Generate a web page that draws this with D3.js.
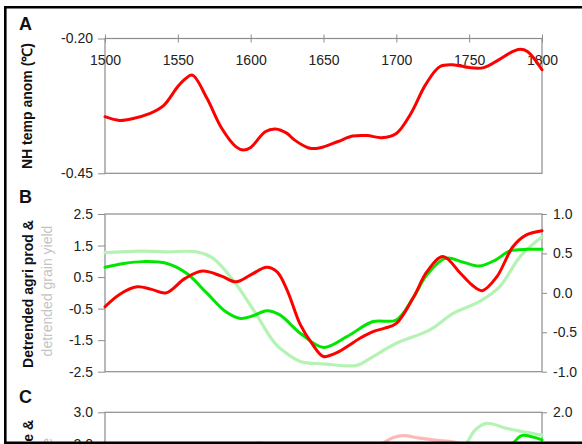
<!DOCTYPE html>
<html>
<head>
<meta charset="utf-8">
<script src="https://cdn.jsdelivr.net/npm/d3@7"></script>
<style>
  html, body { margin: 0; padding: 0; background: #fff; overflow: hidden; }
  svg { display: block; font-family: "Liberation Sans", Arial, sans-serif; }
</style>
</head>
<body>
<svg id="chart" width="582" height="444"></svg>
<script>
// Panel A: NH temperature anomaly
const yearsA = [1500, 1510, 1520, 1530, 1540, 1550, 1555, 1560, 1570, 1580, 1590, 1595, 1600, 1610, 1617, 1625, 1630, 1640, 1645, 1650, 1660, 1670, 1680, 1690, 1700, 1710, 1720, 1730, 1740, 1750, 1760, 1770, 1780, 1785, 1790, 1800];
const tempA = [-0.345, -0.352, -0.348, -0.340, -0.325, -0.289, -0.275, -0.268, -0.311, -0.366, -0.401, -0.407, -0.402, -0.373, -0.368, -0.376, -0.388, -0.403, -0.404, -0.401, -0.391, -0.381, -0.380, -0.384, -0.376, -0.339, -0.286, -0.252, -0.249, -0.254, -0.254, -0.240, -0.224, -0.220, -0.224, -0.258];

// Panel B: detrended agricultural production (red, green) and grain yield (light green, right axis)
const yearsBRed = [1500, 1510, 1522, 1532, 1542, 1555, 1567, 1580, 1590, 1600, 1611, 1618, 1625, 1634, 1642, 1650, 1658, 1666, 1675, 1684, 1692, 1700, 1712, 1721, 1732, 1744, 1752, 1759, 1769, 1780, 1789, 1800];
const agriRed = [-0.44, -0.05, 0.19, 0.11, 0.00, 0.46, 0.69, 0.53, 0.35, 0.57, 0.81, 0.67, 0.09, -1.00, -1.60, -2.02, -1.92, -1.71, -1.44, -1.23, -1.12, -0.97, -0.12, 0.67, 1.15, 0.62, 0.25, 0.07, 0.51, 1.46, 1.83, 1.97];
const yearsBGreen = [1500, 1513, 1526, 1542, 1556, 1570, 1583, 1593, 1602, 1611, 1620, 1634, 1650, 1666, 1684, 1700, 1712, 1721, 1734, 1746, 1757, 1768, 1778, 1790, 1800];
const agriGreen = [0.81, 0.93, 0.99, 0.94, 0.62, -0.01, -0.60, -0.81, -0.72, -0.57, -0.70, -1.28, -1.73, -1.39, -0.91, -0.86, -0.12, 0.57, 1.10, 0.97, 0.85, 1.04, 1.33, 1.38, 1.38];
const yearsBYield = [1500, 1524, 1542, 1563, 1574, 1588, 1602, 1615, 1620, 1634, 1650, 1673, 1682, 1700, 1723, 1739, 1757, 1771, 1785, 1800];
const grainYield = [0.51, 0.53, 0.52, 0.52, 0.44, 0.16, -0.22, -0.60, -0.70, -0.87, -0.90, -0.92, -0.83, -0.64, -0.47, -0.26, -0.11, 0.08, 0.46, 0.71];

// Panel C: only the top strip is visible in the picture
const yearsCPink = [1685, 1691, 1698, 1705, 1716, 1730, 1741, 1748];
const seriesCPink = [1.87, 2.03, 2.20, 2.26, 2.18, 2.10, 2.04, 1.90];
const yearsCLight = [1598, 1606, 1613, null, 1745, 1748, 1754, 1762, 1776, 1788, 1800];
const seriesCLight = [1.12, 1.23, 1.12, null, 1.09, 1.20, 1.55, 1.72, 1.59, 1.50, 1.42];
const yearsCGreen = [1778, 1780, 1786, 1794, 1800];
const seriesCGreen = [1.09, 1.20, 1.41, 1.37, 1.30];

// tick labels
const yearTicks = [1500, 1550, 1600, 1650, 1700, 1750, 1800];
const ticksALeft = [-0.20, -0.45];
const ticksBLeft = [2.5, 1.5, 0.5, -0.5, -1.5, -2.5];
const ticksBRight = [1.0, 0.5, 0.0, -0.5, -1.0];
const ticksCLeft = [3, 2];
const ticksCRight = [2];

const svg = d3.select('#chart');
const axisGrey = '#8c8c8c';
const left = 105, right = 542;
const panelH = 157.7;

var x = d3.scaleLinear().domain([1500, 1800]).range([left, right]);

var yA = d3.scaleLinear().domain([-0.45, -0.20]).range([173.3, 38.5]);
var yBL = d3.scaleLinear().domain([-2.5, 2.5]).range([214 + panelH, 214]);
var yBR = d3.scaleLinear().domain([-1, 1]).range([214 + panelH, 214]);
var yCL = d3.scaleLinear().domain([-2, 3]).range([412.3 + panelH, 412.3]);
var yCR = d3.scaleLinear().domain([-2, 2]).range([412.3 + panelH, 412.3]);

// plain hyphen minus, like the original spreadsheet labels
function fmt(spec) {
  var f = d3.format(spec);
  return d => f(d).replace('\u2212', '-');
}

function zip(xs, ys) {
  return xs.map((d, i) => ({ year: d, value: ys[i] }));
}

function drawLine(data, yScale, color, width) {
  var line = d3.line()
    .defined(d => d.year !== null && d.value !== null)
    .x(d => x(d.year))
    .y(d => yScale(d.value))
    .curve(d3.curveCatmullRom.alpha(0.5));
  svg.append('path')
    .attr('d', line(data))
    .style('fill', 'none')
    .style('stroke', color)
    .style('stroke-width', width)
    .style('stroke-linejoin', 'round')
    .style('stroke-linecap', 'round');
}

function styleAxis(g) {
  g.select('.domain').remove();
  g.selectAll('line').attr('stroke', axisGrey);
  g.selectAll('text').attr('fill', '#222').style('font-size', '14px')
    .style('font-family', '"Liberation Sans", Arial, sans-serif');
}

function frame(top, bottom) {
  svg.append('rect')
    .attr('x', left).attr('y', top)
    .attr('width', right - left).attr('height', bottom - top)
    .attr('fill', 'none').attr('stroke', axisGrey).attr('stroke-width', 1.2);
}

// ---- Panel A ----
frame(38.5, 173.3);
svg.append('g')
  .attr('transform', 'translate(0,38.5)')
  .call(d3.axisBottom(x).tickValues(yearTicks).tickFormat(d3.format('d')).tickSize(4).tickPadding(12.5))
  .call(styleAxis)
  .call(g => g.selectAll('.tick line').attr('y1', -4));
svg.append('g')
  .attr('transform', `translate(${left},0)`)
  .call(d3.axisLeft(yA).tickValues(ticksALeft).tickFormat(fmt('.2f')).tickSize(7).tickPadding(5))
  .call(styleAxis);
drawLine(zip(yearsA, tempA), yA, '#ff0000', 3);

// ---- Panel B ----
frame(214, 214 + panelH);
svg.append('g')
  .attr('transform', `translate(${left},0)`)
  .call(d3.axisLeft(yBL).tickValues(ticksBLeft).tickFormat(fmt('.1f')).tickSize(7).tickPadding(5))
  .call(styleAxis);
svg.append('g')
  .attr('transform', `translate(${right},0)`)
  .call(d3.axisRight(yBR).tickValues(ticksBRight).tickFormat(fmt('.1f')).tickSize(5).tickPadding(6))
  .call(styleAxis);
drawLine(zip(yearsBYield, grainYield), yBR, '#b5f3b5', 3.2);
drawLine(zip(yearsBGreen, agriGreen), yBL, '#00e600', 3);
drawLine(zip(yearsBRed, agriRed), yBL, '#ff0000', 3);

// ---- Panel C ----
frame(412.3, 412.3 + panelH);
svg.append('g')
  .attr('transform', `translate(${left},0)`)
  .call(d3.axisLeft(yCL).tickValues(ticksCLeft).tickFormat(fmt('.1f')).tickSize(7).tickPadding(5))
  .call(styleAxis);
svg.append('g')
  .attr('transform', `translate(${right},0)`)
  .call(d3.axisRight(yCR).tickValues(ticksCRight).tickFormat(fmt('.1f')).tickSize(5).tickPadding(6))
  .call(styleAxis);
drawLine(zip(yearsCPink, seriesCPink), yCL, '#ffb8b8', 3.2);
drawLine(zip(yearsCLight, seriesCLight), yCR, '#b5f3b5', 3.2);
drawLine(zip(yearsCGreen, seriesCGreen), yCR, '#00e600', 3);

// ---- panel letters and axis titles ----
[['A', 30], ['B', 203], ['C', 403]].forEach(([t, y]) => {
  svg.append('text').attr('x', 19).attr('y', y)
    .style('font-size', '18px').style('font-weight', 'bold').attr('fill', '#111').text(t);
});

svg.append('text')
  .attr('transform', 'translate(32,106) rotate(-90)')
  .attr('text-anchor', 'middle')
  .style('font-size', '14px').style('font-weight', 'bold').attr('fill', '#111')
  .text('NH temp anom (\u2103)');

svg.append('text')
  .attr('transform', 'translate(33,294) rotate(-90)')
  .attr('text-anchor', 'middle')
  .style('font-size', '14px').style('font-weight', 'bold').attr('fill', '#111')
  .text('Detrended agri prod &');
svg.append('text')
  .attr('transform', 'translate(52,291) rotate(-90)')
  .attr('text-anchor', 'middle')
  .style('font-size', '14px').attr('fill', '#c4c4c4')
  .text('detrended grain yield');

svg.append('text')
  .attr('transform', 'translate(33,420) rotate(-90)')
  .attr('text-anchor', 'end')
  .style('font-size', '14px').style('font-weight', 'bold').attr('fill', '#111')
  .text('Detrended pop size &');
svg.append('text')
  .attr('transform', 'translate(52,438) rotate(-90)')
  .attr('text-anchor', 'end')
  .style('font-size', '14px').attr('fill', '#c4c4c4')
  .text('detrended grain price');

// ---- outer black frame (left, top, bottom) ----
svg.append('path')
  .attr('d', 'M582,7.2 L5.3,7.2 L5.3,442.8 L582,442.8')
  .attr('fill', 'none').attr('stroke', '#000').attr('stroke-width', 2.6);
</script>
</body>
</html>
